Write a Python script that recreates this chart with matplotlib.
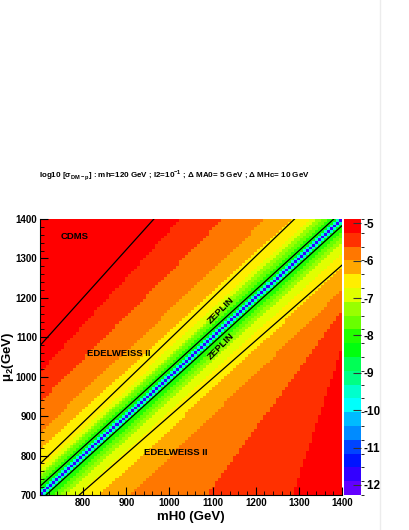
import colorsys
import numpy as np
import matplotlib
matplotlib.use('Agg')
import matplotlib.pyplot as plt
from matplotlib.colors import ListedColormap, BoundaryNorm
from matplotlib.ticker import MultipleLocator
from matplotlib.lines import Line2D

plt.rcParams['font.family'] = ['Liberation Sans', 'DejaVu Sans']
plt.rcParams['mathtext.fontset'] = 'custom'
plt.rcParams['mathtext.rm'] = 'Liberation Sans'
plt.rcParams['mathtext.bf'] = 'Liberation Sans:bold'

# scan range and binning (GeV)
mh0_range = [700, 1400]
mu2_range = [700, 1400]
n_bins = 100

# colour scale of log10(sigma)
z_min, z_max = -12.27, -4.885
n_levels = 20
cbar_ticks = [-12, -11, -10, -9, -8, -7, -6, -5]

# offsets |mu2 - mH0| (GeV) where colour band j starts, j = 2..19
# above the diagonal: at the left edge (mH0=700) and at the top edge (mu2=1400)
upper_left = [1, 2, 3, 4, 5, 6, 10, 12, 13, 20, 32, 42, 52, 66, 117, 159, 235, 311]
upper_top = [1, 2, 3, 4, 5, 6, 10, 12, 13, 20, 34, 45, 58, 76, 114, 176, 276, 376]
# below the diagonal: at the bottom edge (mu2=700) and at the right edge (mH0=1400)
lower_bottom = [1, 2, 3, 4, 5, 6, 10, 12, 13, 20, 34, 48, 62, 85, 139, 209, 388, 585]
lower_right = [1, 2, 3, 4, 5, 6, 10, 12, 13, 20, 34, 46, 62, 85, 122, 180, 231, 325]

# experimental limits (mH0, mu2) end points
cdms_mh0, cdms_mu2 = [700, 964], [1079, 1400]
edel_up_mh0, edel_up_mu2 = [700, 1290], [779, 1400]
zep_up_mh0, zep_up_mu2 = [700, 1381], [722, 1400]
zep_lo_mh0, zep_lo_mu2 = [714, 1400], [700, 1383]
edel_lo_mh0, edel_lo_mu2 = [791, 1400], [700, 1283]

# ROOT "pretty palette" picked for 20 contours
hues = [280 - (int((j + 0.99) * 50 / n_levels) + 1) * 5.6 for j in range(n_levels)]
colors = [colorsys.hls_to_rgb(max(h, 0) / 360.0, 0.5, 1.0) for h in hues]
cmap = ListedColormap(colors)
levels = np.linspace(z_min, z_max, n_levels + 1)
norm = BoundaryNorm(levels, n_levels)

# build the map: count the band boundaries each cell lies beyond
x_edges = np.linspace(mh0_range[0], mh0_range[1], n_bins + 1)
y_edges = np.linspace(mu2_range[0], mu2_range[1], n_bins + 1)
xc = 0.5 * (x_edges[1:] + x_edges[:-1])
yc = 0.5 * (y_edges[1:] + y_edges[:-1])
X, Y = np.meshgrid(xc, yc)
band = np.ones_like(X)
up = Y > X + 1e-6
lo = Y < X - 1e-6
for L, T in zip(upper_left, upper_top):
    ax_, ay_ = 700.0, 700.0 + L
    bx_, by_ = 1400.0 - T, 1400.0
    cross = (bx_ - ax_) * (Y - ay_) - (by_ - ay_) * (X - ax_)
    band += (up & (cross > 0))
for B, R in zip(lower_bottom, lower_right):
    ax_, ay_ = 700.0 + B, 700.0
    bx_, by_ = 1400.0, 1400.0 - R
    cross = (bx_ - ax_) * (Y - ay_) - (by_ - ay_) * (X - ax_)
    band += (lo & (cross < 0))
Z = z_min + (band + 0.5) * (z_max - z_min) / n_levels

fig = plt.figure(figsize=(4.1, 5.3), dpi=100)
ax = fig.add_axes([40 / 410, 35 / 530, 302 / 410, 276 / 530])
mesh = ax.pcolormesh(x_edges, y_edges, Z, cmap=cmap, norm=norm, shading='flat')

for xs, ys in [(cdms_mh0, cdms_mu2), (edel_up_mh0, edel_up_mu2), (zep_up_mh0, zep_up_mu2),
               (zep_lo_mh0, zep_lo_mu2), (edel_lo_mh0, edel_lo_mu2)]:
    ax.plot(xs, ys, color='black', lw=0.9)

lab = dict(fontsize=6.8, fontweight='bold', ha='center', va='center')
ax.text(781, 1356, 'CDMS', **lab)
ax.text(883, 1058, 'EDELWEISS II', **lab)
ax.text(1015, 807, 'EDELWEISS II', **lab)
ax.text(1119, 1168, 'ZEPLIN', rotation=45, **lab)
ax.text(1119, 1076, 'ZEPLIN', rotation=45, **lab)

ax.set_xlim(mh0_range)
ax.set_ylim(mu2_range)
ax.set_xticks(range(800, 1401, 100))
ax.set_yticks(range(700, 1401, 100))
ax.xaxis.set_minor_locator(MultipleLocator(20))
ax.yaxis.set_minor_locator(MultipleLocator(20))
ax.tick_params(which='major', direction='in', length=6, width=0.8, labelsize=7, pad=2)
ax.tick_params(which='minor', direction='in', length=3, width=0.6)
for t in ax.get_xticklabels() + ax.get_yticklabels():
    t.set_fontweight('bold')
for s in ['top', 'right']:
    ax.spines[s].set_visible(False)
for s in ['left', 'bottom']:
    ax.spines[s].set_linewidth(0.8)
ax.set_xlabel('mH0 (GeV)', fontsize=9.5, fontweight='bold', labelpad=2)
fig.text(8.5 / 410, 1 - 357 / 530, r'μ$_\mathbf{2}$(GeV)', fontsize=9.5, fontweight='bold',
         rotation=90, ha='center', va='center')

cax = fig.add_axes([344 / 410, 35 / 530, 17 / 410, 276 / 530])
cb = fig.colorbar(mesh, cax=cax, ticks=cbar_ticks)
cb.outline.set_visible(False)
cax.tick_params(direction='in', length=6, width=0.8, labelsize=8.5, pad=2, color='#333333')
for t in cax.get_yticklabels():
    t.set_fontweight('bold')
cax.set_yticklabels([str(v) for v in cbar_ticks])

fig.text(39 / 410, 1 - 176 / 530,
         r'log10 [σ$_\mathbf{DM-p}$] : mh=120 GeV ; l2=10$^\mathbf{-1}$ ; Δ MA0= 5 GeV ; Δ MHc= 10 GeV',
         fontsize=5.8, fontweight='bold', ha='left', va='center')

fig.add_artist(Line2D([380 / 410, 380 / 410], [0, 1], color='#ececec', lw=1,
                      transform=fig.transFigure))

fig.savefig('out.png', dpi=100)
